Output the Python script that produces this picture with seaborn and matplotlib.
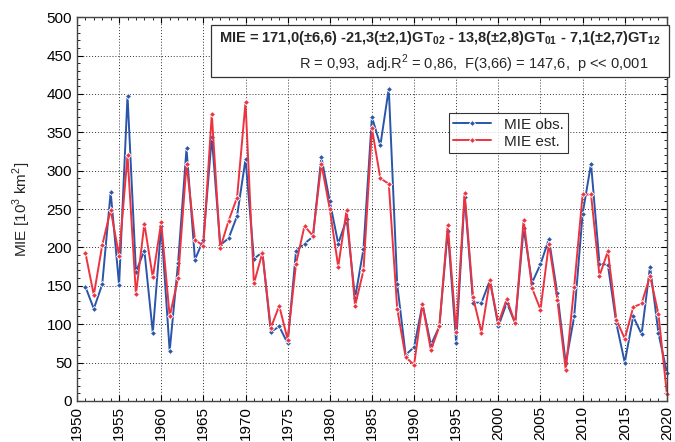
import numpy as np
import pandas as pd
import seaborn as sns
import matplotlib
matplotlib.use("Agg")
import matplotlib.pyplot as plt
from matplotlib.ticker import MultipleLocator

years = list(range(1951, 2021))
mie_obs = [149, 120, 152, 272, 151, 398, 168, 196, 89, 228,
           65, 180, 329, 184, 210, 344, 203, 212, 241, 315,
           185, 194, 90, 97, 75, 196, 205, 214, 318, 260,
           205, 237, 134, 198, 370, 333, 407, 152, 60, 70,
           126, 73, 97, 222, 76, 266, 128, 128, 157, 97,
           128, 101, 225, 154, 178, 211, 140, 49, 110, 244,
           309, 179, 177, 101, 50, 110, 87, 175, 88, 37]
mie_est = [193, 138, 203, 249, 189, 320, 139, 231, 161, 233,
           110, 160, 309, 210, 202, 374, 199, 235, 265, 389,
           153, 193, 95, 124, 80, 179, 228, 215, 309, 250,
           175, 249, 124, 170, 355, 290, 283, 120, 57, 47,
           126, 66, 97, 229, 90, 271, 135, 89, 157, 101,
           133, 101, 236, 147, 119, 205, 132, 40, 149, 269,
           269, 163, 195, 106, 81, 122, 127, 163, 113, 9]

df = pd.DataFrame({
    "year": years * 2,
    "value": mie_obs + mie_est,
    "series": ["MIE obs."] * len(years) + ["MIE est."] * len(years),
})

sns.set_style("ticks")
plt.rcParams["font.family"] = ["Liberation Sans", "DejaVu Sans"]
plt.rcParams["mathtext.fontset"] = "custom"
plt.rcParams["mathtext.rm"] = "Liberation Sans"
plt.rcParams["mathtext.bf"] = "Liberation Sans:bold"

fig = plt.figure(figsize=(6.75, 4.42), dpi=100)
ax = fig.add_axes([0.114, 0.093, 0.874, 0.868])

pal = {"MIE obs.": "#2a55a8", "MIE est.": "#ee3340"}
sns.lineplot(data=df, x="year", y="value", hue="series", palette=pal,
             marker="D", markersize=3, markeredgewidth=0.6,
             linewidth=1.4, ax=ax)
for ln in ax.lines:
    ln.set_clip_on(False)

ax.set_xlim(1950, 2020)
ax.set_ylim(0, 500)
ax.xaxis.set_major_locator(MultipleLocator(5))
ax.xaxis.set_minor_locator(MultipleLocator(1))
ax.yaxis.set_major_locator(MultipleLocator(50))
ax.yaxis.set_minor_locator(MultipleLocator(10))
ax.tick_params(axis="both", which="both", direction="in", top=True, right=True,
               labelsize=11, colors="black")
ax.tick_params(axis="both", which="major", length=4)
ax.tick_params(axis="both", which="minor", length=2)
ax.tick_params(axis="x", labelrotation=90)
ax.grid(True, which="major", linestyle=(0, (1, 2)), color="#333333", linewidth=0.7)
for s in ax.spines.values():
    s.set_color("#444444")
    s.set_linewidth(1.0)

ax.set_xlabel("")
ax.set_ylabel("MIE [10$^3$ km$^2$]", fontsize=11, labelpad=10)

leg = ax.legend(loc="upper left", bbox_to_anchor=(0.617, 0.77), fontsize=11,
                frameon=True, fancybox=False, edgecolor="black",
                handlelength=2.5, borderpad=0.3, labelspacing=0.2)
leg.get_frame().set_linewidth(0.8)

eq1 = ("MIE = 171,0(±6,6) -21,3(±2,1)GT$_{\\mathbf{02}}$ - 13,8(±2,8)GT$_{\\mathbf{01}}$"
       " - 7,1(±2,7)GT$_{\\mathbf{12}}$")
eq2 = "R = 0,93,  adj.R$^2$ = 0,86,  F(3,66) = 147,6,  p << 0,001"
box = plt.Rectangle((0.228, 0.843), 0.775, 0.137, transform=ax.transAxes,
                    facecolor="white", edgecolor="#333333", linewidth=0.9,
                    zorder=5, clip_on=False)
ax.add_patch(box)
ax.text(0.615, 0.945, eq1, transform=ax.transAxes, ha="center", va="center",
        fontsize=10.5, fontweight="bold", zorder=6)
ax.text(0.968, 0.878, eq2, transform=ax.transAxes, ha="right", va="center",
        fontsize=10.5, zorder=6)

fig.savefig("out.png", dpi=100)
